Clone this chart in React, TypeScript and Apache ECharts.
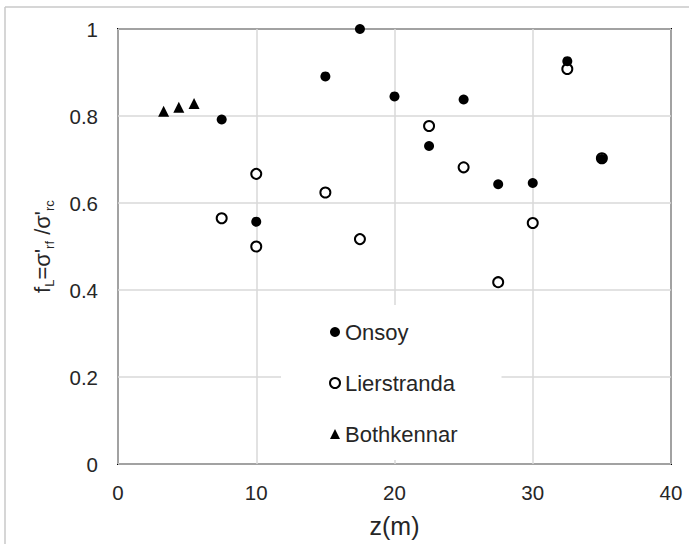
import React, { useEffect, useRef } from "react";
import * as echarts from "echarts";

const onsoyData: [number, number][] = [
  [7.5, 0.792], [10, 0.557], [15, 0.891], [17.5, 1.0], [20, 0.845], [22.5, 0.731],
  [25, 0.838], [27.5, 0.643], [30, 0.646], [32.5, 0.926], [35, 0.701],
];
const lierstrandaData: [number, number][] = [
  [7.5, 0.565], [10, 0.667], [10, 0.5], [15, 0.624], [17.5, 0.517], [22.5, 0.777],
  [25, 0.682], [27.5, 0.418], [30, 0.554], [32.5, 0.908], [35, 0.703],
];
const bothkennarData: [number, number][] = [
  [3.3, 0.811], [4.4, 0.82], [5.5, 0.829],
];
const seriesNames = ["Onsoy", "Lierstranda", "Bothkennar"];
const xTicks = { min: 0, max: 40, interval: 10 };
const yTicks = { min: 0, max: 1, interval: 0.2 };

const FONT = "Liberation Sans, Arial, sans-serif";

export default function App() {
  const ref = useRef<HTMLDivElement>(null);
  useEffect(() => {
    if (!ref.current) return;
    const chart = echarts.init(ref.current, null, { renderer: "svg" });
    chart.setOption({
      animation: false,
      backgroundColor: "#fff",
      textStyle: { fontFamily: FONT },
      grid: {
        left: 118, top: 29, width: 553, height: 435,
        show: true, borderColor: "#000", borderWidth: 2, backgroundColor: "transparent",
      },
      graphic: [
        { type: "line", shape: { x1: 5, y1: 7, x2: 689, y2: 7 }, style: { stroke: "#c8c8c8", lineWidth: 1.5 }, z: 0 },
        { type: "line", shape: { x1: 5, y1: 7, x2: 5, y2: 544 }, style: { stroke: "#c8c8c8", lineWidth: 1.5 }, z: 0 },
      ],
      xAxis: {
        type: "value",
        min: xTicks.min, max: xTicks.max, interval: xTicks.interval,
        axisLine: { show: false },
        axisTick: { show: false },
        splitLine: { show: true, lineStyle: { color: "#d9d9d9", width: 1.5 } },
        axisLabel: { color: "#262626", fontSize: 20.5, margin: 18, fontFamily: FONT },
        name: "z(m)",
        nameLocation: "middle",
        nameGap: 49,
        nameTextStyle: { color: "#262626", fontSize: 25, fontFamily: FONT },
      },
      yAxis: {
        type: "value",
        min: yTicks.min, max: yTicks.max, interval: yTicks.interval,
        axisLine: { show: false },
        axisTick: { show: false },
        splitLine: { show: true, lineStyle: { color: "#d9d9d9", width: 1.5 } },
        axisLabel: {
          color: "#262626", fontSize: 20.5, margin: 20, fontFamily: FONT,
          formatter: (v: number) => String(Math.round(v * 10) / 10),
        },
        name: "{a|f}{s|L}{a|=σ'}{s|rf}{a| /σ'}{s|rc}",
        nameLocation: "middle",
        nameGap: 62,
        nameTextStyle: {
          color: "#262626",
          fontFamily: FONT,
          rich: {
            a: { fontSize: 22, lineHeight: 28, verticalAlign: "middle", color: "#262626", fontFamily: FONT },
            s: { fontSize: 13, lineHeight: 28, verticalAlign: "bottom", color: "#262626", fontFamily: FONT },
          },
        },
      },
      legend: {
        orient: "vertical",
        left: 281,
        top: 305,
        backgroundColor: "#fff",
        padding: [16, 44, 15, 48],
        itemWidth: 10,
        itemHeight: 10,
        itemGap: 29,
        itemTextGap: 5,
        data: seriesNames,
        textStyle: { fontSize: 22, color: "#262626", fontFamily: FONT, lineHeight: 21 },
      },
      series: [
        {
          name: seriesNames[0],
          type: "scatter",
          data: onsoyData,
          symbol: "circle",
          symbolSize: 10,
          itemStyle: { color: "#000", borderColor: "#000", borderWidth: 0, opacity: 1 },
          z: 3,
        },
        {
          name: seriesNames[1],
          type: "scatter",
          data: lierstrandaData,
          symbol: "circle",
          symbolSize: 10,
          itemStyle: { color: "#fff", borderColor: "#000", borderWidth: 2, opacity: 1 },
          z: 2,
        },
        {
          name: seriesNames[2],
          type: "scatter",
          data: bothkennarData,
          symbol: "triangle",
          symbolSize: [11, 11],
          itemStyle: { color: "#000", opacity: 1 },
          z: 3,
        },
      ],
    });
    return () => chart.dispose();
  }, []);
  return (
    <div
      ref={ref}
      style={{ position: "fixed", left: 0, top: 0, width: 689, height: 544, background: "#fff" }}
    />
  );
}
